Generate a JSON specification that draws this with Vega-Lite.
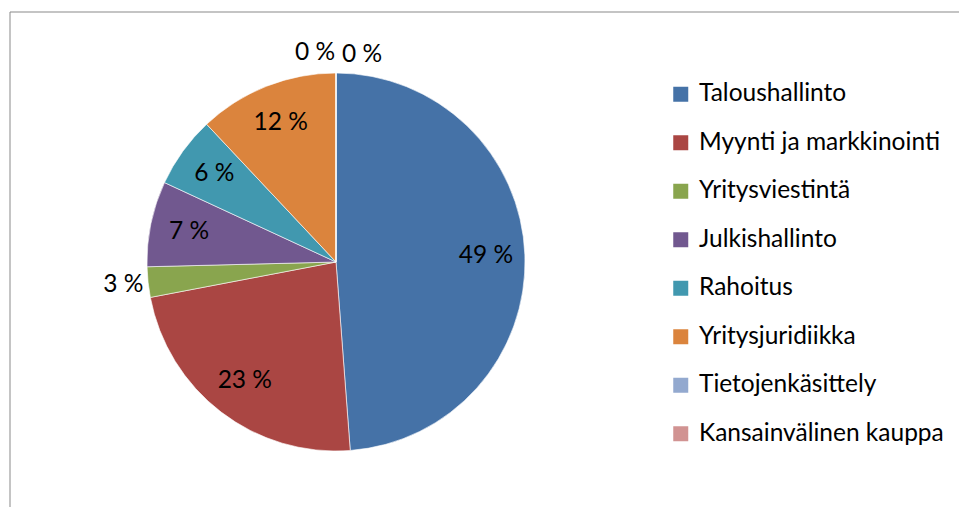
{
  "$schema": "https://vega.github.io/schema/vega-lite/v6.json",
  "width": 949.5,
  "height": 495.5,
  "autosize": {"type": "none"},
  "padding": {"left": 9.5, "top": 11.5, "right": 0, "bottom": 0},
  "view": {"stroke": "#898989", "strokeWidth": 1, "fill": null},
  "config": {
    "view": {"stroke": "#898989", "strokeWidth": 1},
    "font": "Lato"
  },
  "data": {
    "values": [
      {"i": 1, "ala": "Taloushallinto", "osuus": 48.8, "label": "49 %"},
      {"i": 2, "ala": "Myynti ja markkinointi", "osuus": 23.2, "label": "23 %"},
      {"i": 3, "ala": "Yritysviestintä", "osuus": 2.6, "label": "3 %"},
      {"i": 4, "ala": "Julkishallinto", "osuus": 7.3, "label": "7 %"},
      {"i": 5, "ala": "Rahoitus", "osuus": 6.1, "label": "6 %"},
      {"i": 6, "ala": "Yritysjuridiikka", "osuus": 12.0, "label": "12 %"},
      {"i": 7, "ala": "Tietojenkäsittely", "osuus": 0, "label": "0 %"},
      {"i": 8, "ala": "Kansainvälinen kauppa", "osuus": 0, "label": "0 %"}
    ]
  },
  "encoding": {
    "theta": {"field": "osuus", "type": "quantitative", "stack": true},
    "order": {"field": "i", "type": "quantitative"}
  },
  "layer": [
    {
      "mark": {"type": "arc", "x": 326.5, "y": 250.5, "outerRadius": 189, "stroke": "#ffffff", "strokeWidth": 0.6},
      "encoding": {
        "color": {
          "field": "ala",
          "type": "nominal",
          "scale": {
            "domain": ["Taloushallinto", "Myynti ja markkinointi", "Yritysviestintä", "Julkishallinto", "Rahoitus", "Yritysjuridiikka", "Tietojenkäsittely", "Kansainvälinen kauppa"],
            "range": ["#4572A7", "#AA4643", "#89A54E", "#71588F", "#4198AF", "#DB843D", "#93A9CF", "#D19392"]
          },
          "legend": {
            "title": null,
            "orient": "none",
            "legendX": 659,
            "legendY": 70.5,
            "padding": 0,
            "symbolType": "square",
            "symbolSize": 225,
            "symbolStrokeWidth": 0,
            "symbolOpacity": 1,
            "labelFont": "Lato",
            "labelFontSize": 24.5,
            "labelColor": "#000000",
            "labelOffset": 6,
            "labelLimit": 400,
            "rowPadding": 23.5
          }
        }
      }
    },
    {
      "mark": {"type": "text", "x": 326.5, "y": 250.5, "radius": 150, "fontSize": 24.5, "color": "#000000"},
      "encoding": {"text": {"condition": {"test": "datum.osuus >= 5", "field": "label"}, "value": ""}}
    },
    {
      "mark": {"type": "text", "x": 326.5, "y": 250.5, "radius": 214, "fontSize": 24.5, "color": "#000000"},
      "encoding": {"text": {"condition": {"test": "datum.osuus > 0 && datum.osuus < 5", "field": "label"}, "value": ""}}
    },
    {
      "mark": {"type": "text", "x": 326.5, "y": 250.5, "radius": 209, "dx": -21, "fontSize": 24.5, "color": "#000000"},
      "encoding": {"text": {"condition": {"test": "datum.i == 7", "field": "label"}, "value": ""}}
    },
    {
      "mark": {"type": "text", "x": 326.5, "y": 250.5, "radius": 209, "dx": 26, "dy": 2, "fontSize": 24.5, "color": "#000000"},
      "encoding": {"text": {"condition": {"test": "datum.i == 8", "field": "label"}, "value": ""}}
    }
  ]
}
